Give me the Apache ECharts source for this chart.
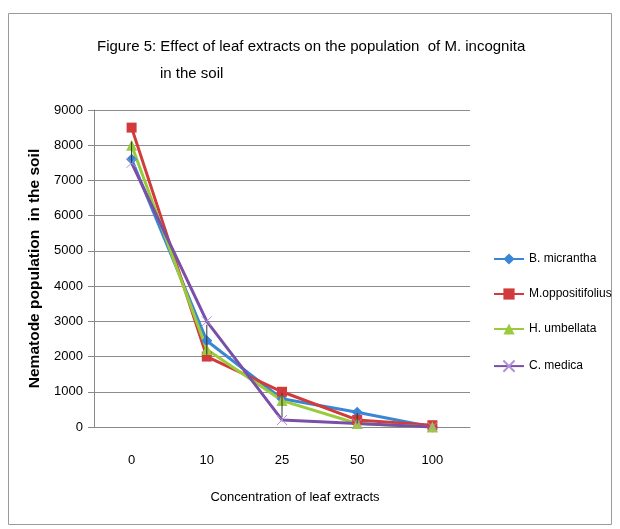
<!DOCTYPE html>
<html><head><meta charset="utf-8">
<script src="https://cdn.jsdelivr.net/npm/echarts@6/dist/echarts.min.js"></script>
<style>html,body{margin:0;padding:0;background:#fff}#c{width:620px;height:529px}</style>
</head><body><div id="c"></div>
<script>
const categories = ['0','10','25','50','100'];
const bMicrantha = [7600, 2450, 800, 420, 0];
const mOppositifolius = [8500, 2000, 1000, 200, 50];
const hUmbellata = [8000, 2200, 750, 100, 0];
const cMedica = [7500, 3000, 200, 100, 0];
const seriesNames = ['B. micrantha','M.oppositifolius','H. umbellata','C. medica'];
const yTicks = [0,1000,2000,3000,4000,5000,6000,7000,8000,9000];
const errLow = [7500, 2050, 280, 100, null];
const errHigh = [8100, 2900, 970, 400, null];

const font = '"Liberation Sans", Arial, sans-serif';
const colors = ['#3a86d6','#d23b3b','#9acb3c','#7a4fa8'];
const xPath = 'path://M0,0 L10,10 M10,0 L0,10';
const chart = echarts.init(document.getElementById('c'));
const mk = (name, data, color, symbol, size) => ({
  name, type: 'line', data, symbol, symbolSize: size, showSymbol: true,
  lineStyle: {width: 3, color},
  itemStyle: symbol === xPath ? {color: 'none', borderColor: '#b090d8', borderWidth: 1} : {color},
  emphasis: {disabled: true}, z: 3
});
chart.setOption({
  animation: false,
  graphic: [
    {type: 'rect', shape: {x: 8.5, y: 13.5, width: 603, height: 511}, style: {fill: 'none', stroke: '#9a9a9a', lineWidth: 1}},
    {type: 'text', left: 97, top: 39, style: {text: 'Figure 5: Effect of leaf extracts on the population  of M. incognita', font: '15px "Liberation Sans", Arial, sans-serif', fill: '#000'}},
    {type: 'text', left: 160, top: 66, style: {text: 'in the soil', font: '15px "Liberation Sans", Arial, sans-serif', fill: '#000'}},
    {type: 'text', x: 295, y: 497, style: {text: 'Concentration of leaf extracts', font: '13px "Liberation Sans", Arial, sans-serif', fill: '#000', align: 'center', verticalAlign: 'middle'}}
  ],
  legend: {
    orient: 'vertical', left: 488, top: 248, itemGap: 23, itemWidth: 30, itemHeight: 14,
    textStyle: {fontFamily: font, fontSize: 12, color: '#000'},
    data: seriesNames
  },
  grid: {left: 94, right: 150, top: 110, bottom: 102},
  xAxis: {
    type: 'category', data: categories, boundaryGap: true,
    axisLine: {lineStyle: {color: '#888'}}, axisTick: {show: false},
    axisLabel: {fontFamily: font, fontSize: 13, color: '#000', margin: 27}
  },
  yAxis: {
    type: 'value', min: yTicks[0], max: yTicks[yTicks.length-1], interval: 1000,
    name: 'Nematode population  in the soil', nameLocation: 'middle', nameGap: 51,
    nameTextStyle: {fontFamily: font, fontSize: 15.5, fontWeight: 'bold', color: '#000'},
    axisLine: {show: true, lineStyle: {color: '#888'}},
    axisTick: {show: true, length: 6, lineStyle: {color: '#888'}},
    splitLine: {lineStyle: {color: '#8c8c8c', width: 1}},
    axisLabel: {fontFamily: font, fontSize: 13, color: '#000', margin: 11, formatter: v => String(v)}
  },
  series: [
    mk(seriesNames[0], bMicrantha, colors[0], 'diamond', 11),
    mk(seriesNames[1], mOppositifolius, colors[1], 'rect', 10),
    mk(seriesNames[2], hUmbellata, colors[2], 'triangle', 11),
    mk(seriesNames[3], cMedica, colors[3], xPath, 10),
    {
      type: 'custom', name: 'err', z: 5, silent: true,
      data: categories.map((c, i) => [i, errLow[i], errHigh[i]]).filter(d => d[1] !== null),
      renderItem: (params, api) => {
        const a = api.coord([api.value(0), api.value(1)]);
        const b = api.coord([api.value(0), api.value(2)]);
        return {type: 'line', shape: {x1: a[0], y1: a[1], x2: b[0], y2: b[1]}, style: {stroke: '#333', lineWidth: 1}};
      }
    }
  ]
});
</script></body></html>
